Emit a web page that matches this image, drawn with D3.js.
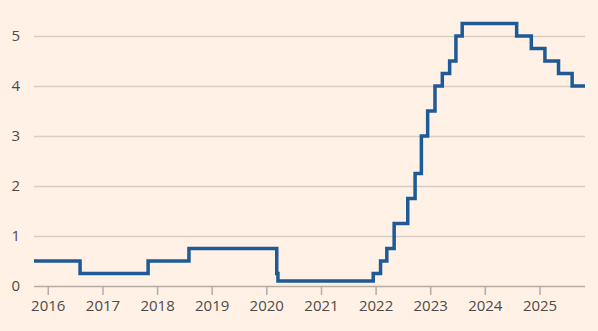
<!DOCTYPE html>
<html>
<head>
<meta charset="utf-8">
<script src="https://cdn.jsdelivr.net/npm/d3@7"></script>
<style>
  html, body { margin: 0; padding: 0; background: #FFF1E5; }
  svg { display: block; }
  text { font-family: "Open Sans", "Noto Sans", sans-serif; fill: #4f4a47; }
</style>
</head>
<body>
<svg id="chart" width="598" height="331"></svg>
<script>
// Policy rate (%) – date each level took effect
const changeDates = [
  "2015-10-01", "2016-08-04", "2017-11-02", "2018-08-02", "2020-03-11",
  "2020-03-19", "2021-12-16", "2022-02-03", "2022-03-17", "2022-05-05",
  "2022-08-04", "2022-09-22", "2022-11-03", "2022-12-15", "2023-02-02",
  "2023-03-23", "2023-05-11", "2023-06-22", "2023-08-03", "2024-08-01",
  "2024-11-07", "2025-02-06", "2025-05-08", "2025-08-07", "2025-11-01"
];
const rateValues = [
  0.5, 0.25, 0.5, 0.75, 0.25,
  0.1, 0.25, 0.5, 0.75, 1.25,
  1.75, 2.25, 3.0, 3.5, 4.0,
  4.25, 4.5, 5.0, 5.25, 5.0,
  4.75, 4.5, 4.25, 4.0, 4.0
];
const yTicks = [0, 1, 2, 3, 4, 5];
const xTickYears = [2016, 2017, 2018, 2019, 2020, 2021, 2022, 2023, 2024, 2025];

const parse = d3.timeParse("%Y-%m-%d");
const data = changeDates.map((d, i) => ({ date: parse(d), value: rateValues[i] }));

const svg = d3.select("#chart");
const margin = { left: 34, right: 13, top: 36, bottom: 45 };
const width = 598, height = 331;

const x = d3.scaleTime()
  .domain([data[0].date, data[data.length - 1].date])
  .range([margin.left, width - margin.right]);

const y = d3.scaleLinear()
  .domain([0, 5])
  .range([height - margin.bottom, margin.top]);

// Horizontal gridlines with left-side labels
const yAxis = d3.axisLeft(y)
  .tickValues(yTicks)
  .tickSize(-(width - margin.left - margin.right))
  .tickPadding(14)
  .tickFormat(d3.format("d"));

const gy = svg.append("g")
  .attr("transform", `translate(${margin.left},0)`)
  .call(yAxis);
gy.select(".domain").remove();
gy.selectAll(".tick line")
  .attr("stroke", (d) => d === 0 ? "#b5aca4" : "#d9cec4")
  .attr("stroke-width", (d) => d === 0 ? 1.5 : 1.3);
gy.selectAll(".tick text")
  .attr("font-size", 15)
  .attr("text-anchor", "end");

// Bottom axis: year ticks
const xAxis = d3.axisBottom(x)
  .tickValues(xTickYears.map(yr => new Date(yr, 0, 1)))
  .tickSize(9)
  .tickPadding(5)
  .tickFormat(d3.timeFormat("%Y"));

const gx = svg.append("g")
  .attr("transform", `translate(0,${y(0)})`)
  .call(xAxis);
gx.select(".domain").remove();
gx.selectAll(".tick line").attr("stroke", "#b5aca4").attr("stroke-width", 1.5);
gx.selectAll(".tick text").attr("font-size", 15);

// Step line
const line = d3.line()
  .x(d => x(d.date))
  .y(d => y(d.value))
  .curve(d3.curveStepAfter);

svg.append("path")
  .datum(data)
  .attr("fill", "none")
  .attr("stroke", "#1e5a96")
  .attr("stroke-width", 3.5)
  .attr("stroke-linejoin", "miter")
  .attr("d", line);
</script>
</body>
</html>
